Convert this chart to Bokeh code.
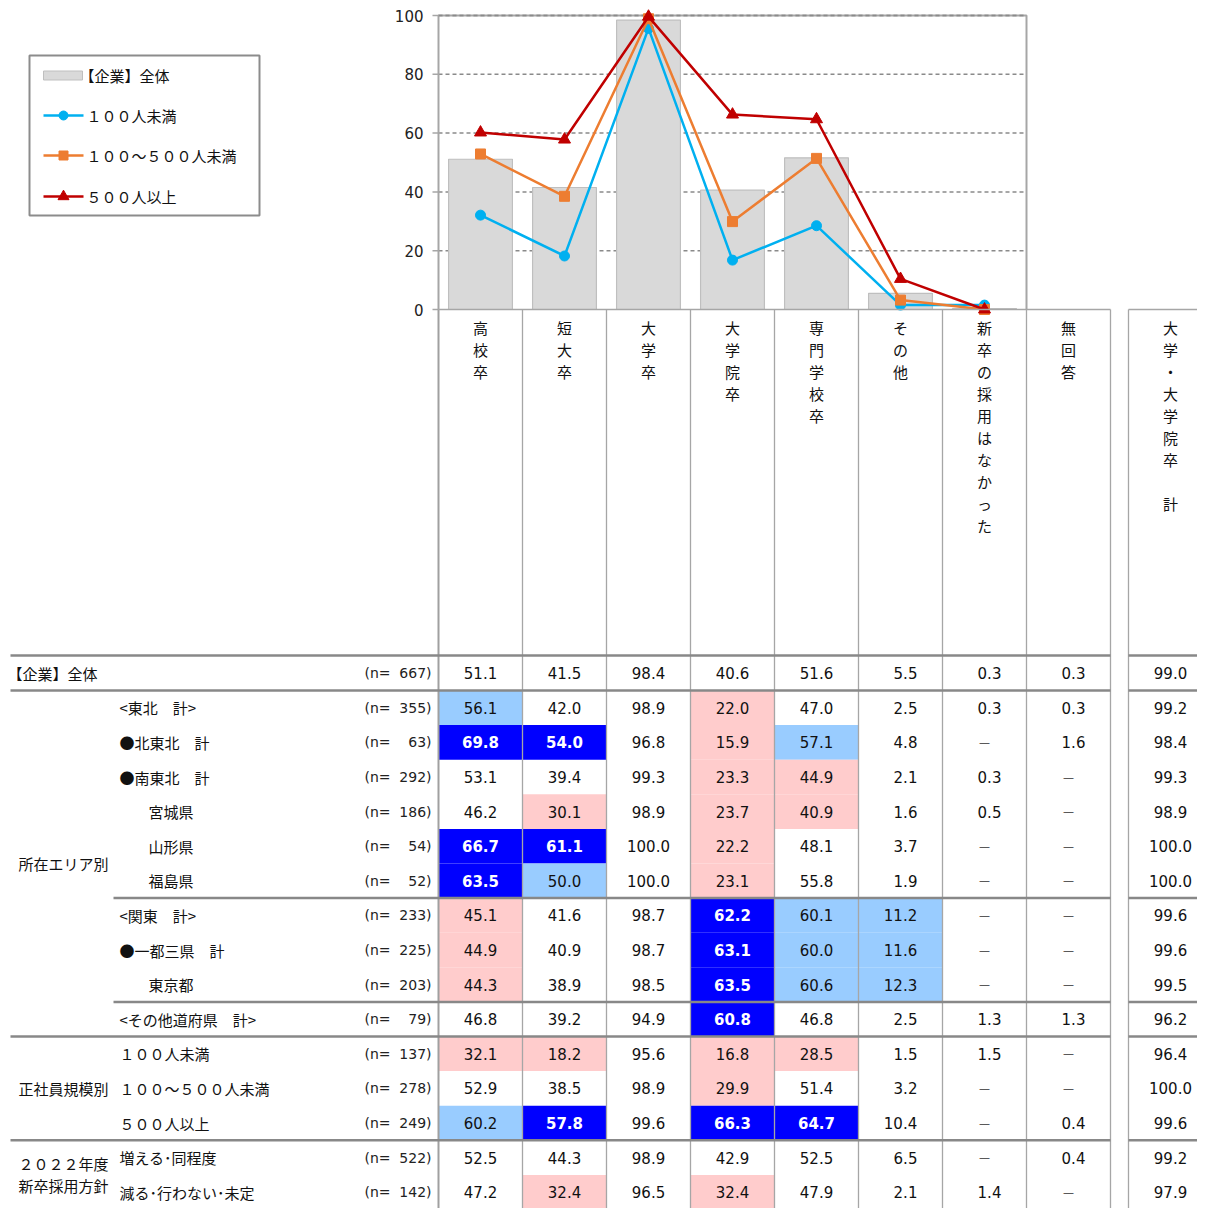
from bokeh.plotting import figure
from bokeh.models import Range1d, ColumnDataSource
from bokeh.embed import file_html
from bokeh.resources import INLINE
from bokeh.core.properties import value

# ---------------- data ----------------
categories = ["高校卒", "短大卒", "大学卒", "大学院卒", "専門学校卒", "その他", "新卒の採用はなかった"]
table_columns = categories + ["無回答", "大学・大学院卒　計"]
series_names = ["【企業】全体", "１００人未満", "１００～５００人未満", "５００人以上"]
overall = [51.1, 41.5, 98.4, 40.6, 51.6, 5.5, 0.3]
under_100 = [32.1, 18.2, 95.6, 16.8, 28.5, 1.5, 1.5]
from_100_to_500 = [52.9, 38.5, 98.9, 29.9, 51.4, 3.2, 0.0]
over_500 = [60.2, 57.8, 99.6, 66.3, 64.7, 10.4, 0.0]
y_ticks = [0, 20, 40, 60, 80, 100]

row_labels = ["【企業】全体", "<東北　計>", "●北東北　計", "●南東北　計", "宮城県", "山形県", "福島県",
              "<関東　計>", "●一都三県　計", "東京都", "<その他道府県　計>",
              "１００人未満", "１００～５００人未満", "５００人以上",
              "増える･同程度", "減る･行わない･未定"]
row_levels = [0, 1, 1, 1, 2, 2, 2, 1, 1, 2, 1, 1, 1, 1, 1, 1]
row_n = [667, 355, 63, 292, 186, 54, 52, 233, 225, 203, 79, 137, 278, 249, 522, 142]
group_labels = ["所在エリア別", "正社員規模別", "２０２２年度\n新卒採用方針"]
group_rows = [(1, 10), (11, 13), (14, 15)]

N = None
table_values = [
    [51.1, 41.5, 98.4, 40.6, 51.6, 5.5, 0.3, 0.3, 99.0],
    [56.1, 42.0, 98.9, 22.0, 47.0, 2.5, 0.3, 0.3, 99.2],
    [69.8, 54.0, 96.8, 15.9, 57.1, 4.8, N, 1.6, 98.4],
    [53.1, 39.4, 99.3, 23.3, 44.9, 2.1, 0.3, N, 99.3],
    [46.2, 30.1, 98.9, 23.7, 40.9, 1.6, 0.5, N, 98.9],
    [66.7, 61.1, 100.0, 22.2, 48.1, 3.7, N, N, 100.0],
    [63.5, 50.0, 100.0, 23.1, 55.8, 1.9, N, N, 100.0],
    [45.1, 41.6, 98.7, 62.2, 60.1, 11.2, N, N, 99.6],
    [44.9, 40.9, 98.7, 63.1, 60.0, 11.6, N, N, 99.6],
    [44.3, 38.9, 98.5, 63.5, 60.6, 12.3, N, N, 99.5],
    [46.8, 39.2, 94.9, 60.8, 46.8, 2.5, 1.3, 1.3, 96.2],
    [32.1, 18.2, 95.6, 16.8, 28.5, 1.5, 1.5, N, 96.4],
    [52.9, 38.5, 98.9, 29.9, 51.4, 3.2, N, N, 100.0],
    [60.2, 57.8, 99.6, 66.3, 64.7, 10.4, N, 0.4, 99.6],
    [52.5, 44.3, 98.9, 42.9, 52.5, 6.5, N, 0.4, 99.2],
    [47.2, 32.4, 96.5, 32.4, 47.9, 2.1, 1.4, N, 97.9],
]
# D = well above total, L = above total, P = below total
highlight = [
    ".........",
    "L..P.....",
    "DD.PL....",
    "...PP....",
    ".P.PP....",
    "DD.P.....",
    "DL.P.....",
    "P..DLL...",
    "P..DLL...",
    "P..DLL...",
    "...D.....",
    "PP.PP....",
    "...P.....",
    "LD.DD....",
    ".........",
    ".P.P.....",
]

# ---------------- layout / style ----------------
JP = value("Noto Sans CJK JP")
NUM = value("DejaVu Sans")
FILL = {"D": "#0000ff", "L": "#99ccff", "P": "#ffcccc"}
COLW = 84
col_lefts = [438 + COLW * j for j in range(8)] + [1128]
col_centers = [c + COLW / 2 for c in col_lefts]
HEADER_TOP, HEADER_BOTTOM = 309, 655
PITCH = 34.6
W, H = 1197, 1208


def row_top(r):
    return HEADER_BOTTOM if r == 0 else 690 + PITCH * (r - 1)


def row_bottom(r):
    return 690 if r == 0 else 690 + PITCH * r


def row_center(r):
    return (row_top(r) + row_bottom(r)) / 2


p = figure(width=W, height=H, x_range=Range1d(0, W), y_range=Range1d(H, 0),
           output_backend="svg", toolbar_location=None, min_border=0,
           x_axis_location=None, y_axis_location=None, outline_line_color=None,
           background_fill_color="white", border_fill_color="white")
p.grid.visible = False
# chart scales: category index across, percent up
p.extra_x_ranges = {"cx": Range1d((0 - 438) / COLW, (W - 438) / COLW)}
p.extra_y_ranges = {"cy": Range1d((309 - H) / 2.94, (309 - 0) / 2.94)}
C = dict(x_range_name="cx", y_range_name="cy")
ncat = len(categories)

# ---------------- chart ----------------
xs = [i + 0.5 for i in range(ncat)]
src = ColumnDataSource(dict(x=xs, overall=overall, u100=under_100, mid=from_100_to_500, o500=over_500))
tick_src = ColumnDataSource(dict(y=y_ticks, label=[str(t) for t in y_ticks]))
grid_src = ColumnDataSource(dict(y=y_ticks[1:]))

p.segment(x0=0, x1=ncat, y0="y", y1="y", source=grid_src, line_color="#8a8a8a",
          line_width=1.5, line_dash="4 3", **C)
p.vbar(x="x", top="overall", bottom=0, width=0.76, source=src,
       fill_color="#d9d9d9", line_color="#bfbfbf", line_width=1.2, **C)
# plot border
p.line(x=[0, 0, ncat, ncat], y=[0, y_ticks[-1], y_ticks[-1], 0], line_color="#a6a6a6",
       line_width=2, **C)
p.segment(x0=0, x1=ncat, y0=y_ticks[-1], y1=y_ticks[-1], line_color="#8a8a8a",
          line_width=1.5, line_dash="4 3", **C)
# y ticks
p.segment(x0=-6 / COLW, x1=0, y0="y", y1="y", source=tick_src, line_color="#a6a6a6",
          line_width=1.5, **C)
p.text(x=-15 / COLW, y="y", text="label", source=tick_src, text_font=NUM,
       text_font_size="15px", text_align="right", text_baseline="middle",
       text_color="#222222", **C)

for col, color, marker, size in [("u100", "#00b0f0", "circle", 10),
                                 ("mid", "#ed7d31", "square", 10),
                                 ("o500", "#c00000", "triangle", 12)]:
    p.line(x="x", y=col, source=src, line_color=color, line_width=2.5, **C)
    p.scatter(x="x", y=col, source=src, marker=marker, size=size,
              fill_color=color, line_color=color, **C)

# ---------------- legend ----------------
p.quad(left=29, right=259, top=55, bottom=215, fill_color="white",
       line_color="#8c8c8c", line_width=2)
leg_y = [75, 115, 155, 196]
p.quad(left=43, right=82, top=leg_y[0] - 4.5, bottom=leg_y[0] + 4.5,
       fill_color="#d9d9d9", line_color="#bfbfbf", line_width=1)
for yy, color, marker, size in [(leg_y[1], "#00b0f0", "circle", 9),
                                (leg_y[2], "#ed7d31", "square", 9),
                                (leg_y[3], "#c00000", "triangle", 11)]:
    p.segment(x0=43, x1=83, y0=yy, y1=yy, line_color=color, line_width=2.5)
    p.scatter(x=[63], y=[yy], marker=marker, size=size, fill_color=color, line_color=color)
p.text(x=[79, 86, 86, 86], y=leg_y, text=series_names, text_font=JP, text_font_size="15px",
       text_align="left", text_baseline="middle", text_color="#111111")

# ---------------- table: cell fills ----------------
fx, fy, fw, fh, fc = [], [], [], [], []
for r, marks in enumerate(highlight):
    for j, m in enumerate(marks):
        if m in FILL:
            fx.append(col_centers[j]); fy.append(row_center(r))
            fw.append(COLW); fh.append(row_bottom(r) - row_top(r)); fc.append(FILL[m])
p.rect(x=fx, y=fy, width=fw, height=fh, fill_color=fc, line_color=None)

# ---------------- table: grid lines ----------------
bottom_y = H + 10
right_x = W + 10
vx = col_lefts[1:8] + [1110, 1128]
p.segment(x0=vx, x1=vx, y0=HEADER_TOP, y1=bottom_y, line_color="#a6a6a6", line_width=1.3)
p.segment(x0=[438], x1=[438], y0=HEADER_TOP, y1=bottom_y, line_color="#a0a0a0", line_width=2)
p.segment(x0=[438, 1128], x1=[1110, right_x], y0=HEADER_TOP, y1=HEADER_TOP,
          line_color="#a6a6a6", line_width=1.5)
hl = [(HEADER_BOTTOM, 10), (row_top(1), 10), (row_top(7), 113), (row_top(10), 113),
      (row_top(11), 10), (row_top(14), 10)]
hx0, hx1, hy = [], [], []
for yy, x0 in hl:
    hx0 += [x0, 1128]; hx1 += [1110, right_x]; hy += [yy, yy]
p.segment(x0=hx0, x1=hx1, y0=hy, y1=hy, line_color="#888888", line_width=2.5)

# ---------------- table: header ----------------
hx, hyy, ht = [], [], []
for j, name in enumerate(table_columns):
    for k, ch in enumerate(name):
        if ch.strip():
            hx.append(col_centers[j]); hyy.append(327 + 22 * k); ht.append(ch)
p.text(x=hx, y=hyy, text=ht, text_font=JP, text_font_size="15px", text_align="center",
       text_baseline="middle", text_color="#111111")

# ---------------- table: row labels ----------------
level_x = {0: 7, 1: 119, 2: 148}
centers = [row_center(r) for r in range(len(row_labels))]
p.text(x=[level_x[lv] for lv in row_levels], y=centers,
       text=row_labels, text_font=JP, text_font_size="15px", text_align="left",
       text_baseline="middle", text_color="#111111")
p.text(x=[364] * len(row_n), y=centers,
       text=["(n="] * len(row_n), text_font=NUM, text_font_size="14px",
       text_align="left", text_baseline="middle", text_color="#222222")
p.text(x=[431] * len(row_n), y=centers,
       text=[f"{n})" for n in row_n], text_font=NUM, text_font_size="14px",
       text_align="right", text_baseline="middle", text_color="#222222")
gx, gy, gt = [], [], []
for lab, (r0, r1) in zip(group_labels, group_rows):
    lines = lab.split("\n")
    mid = (row_top(r0) + row_bottom(r1)) / 2
    for k, ln in enumerate(lines):
        gx.append(63); gy.append(mid + (k - (len(lines) - 1) / 2) * 22); gt.append(ln)
p.text(x=gx, y=gy, text=gt, text_font=JP, text_font_size="15px", text_align="center",
       text_baseline="middle", text_color="#111111")

# ---------------- table: values ----------------
vx_, vy_, vt_, vc_, vs_, vo_ = [], [], [], [], [], []
dx_, dy_ = [], []
for r, row in enumerate(table_values):
    for j, v in enumerate(row):
        if v is None:
            dx_.append(col_centers[j]); dy_.append(row_center(r))
            continue
        s = f"{v:.1f}"
        dark = highlight[r][j] == "D"
        vx_.append(col_centers[j]); vy_.append(row_center(r)); vt_.append(s)
        vc_.append("white" if dark else "#111111")
        vs_.append("bold" if dark else "normal")
        vo_.append(5 if len(s) == 3 else 0)
vsrc = ColumnDataSource(dict(x=vx_, y=vy_, t=vt_, c=vc_, s=vs_, o=vo_))
p.text(x="x", y="y", text="t", source=vsrc, text_color="c", text_font_style="s",
       x_offset="o", text_font=NUM, text_font_size="15px", text_align="center",
       text_baseline="middle")
p.text(x=dx_, y=dy_, text=["—"] * len(dx_), text_font=NUM, text_font_size="11px",
       text_align="center", text_baseline="middle", text_color="#333333")

open("out.html", "w").write(file_html(p, INLINE))
